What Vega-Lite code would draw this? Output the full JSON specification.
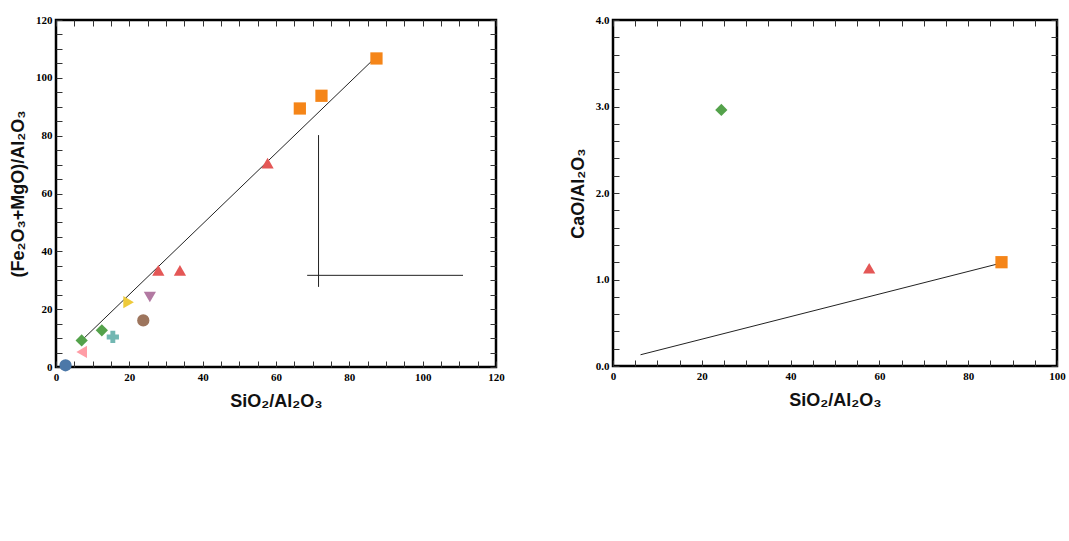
{
"$schema": "https://vega.github.io/schema/vega-lite/v6.json",
"padding": {"left": 8, "top": 12, "right": 5, "bottom": 0},
"config": {
  "font": "Liberation Sans",
  "view": {"stroke": "black", "strokeWidth": 2.5},
  "axis": {"grid": false, "domain": false, "ticks": true, "tickColor": "#333", "tickWidth": 1, "tickSize": -6, "labelPadding": 10, "labelFont": "Liberation Serif", "labelFontWeight": "bold", "labelFontSize": 11, "labelColor": "black", "labelFlush": false, "labelOverlap": false, "titleFont": "Liberation Sans", "titleFontSize": 18, "titleFontWeight": "bold", "titleColor": "#111"},
  "text": {"font": "Liberation Sans", "color": "#1a1a1a"}
},
"datasets": {
  "ptsA": [
    {"rock": "Dunito", "x": 87.4, "y": 106.7}, {"rock": "Dunito", "x": 72.4, "y": 93.8}, {"rock": "Dunito", "x": 66.5, "y": 89.4},
    {"rock": "Harzburgito", "x": 57.7, "y": 70.5}, {"rock": "Harzburgito", "x": 33.8, "y": 33.4}, {"rock": "Harzburgito", "x": 27.9, "y": 33.4},
    {"rock": "Lherzolito", "x": 7, "y": 9.2}, {"rock": "Lherzolito", "x": 12.5, "y": 12.7},
    {"rock": "Websterito", "x": 23.8, "y": 16.1},
    {"rock": "Olivina Websterito", "x": 25.6, "y": 24.2},
    {"rock": "Olivina Ortopiroxenito", "x": 19.8, "y": 22.4},
    {"rock": "Anfibolito", "x": 2.6, "y": 0.6},
    {"rock": "Piroxênio Hornblendito", "x": 7, "y": 5.2},
    {"rock": "Hornblenda Piroxenito", "x": 15.5, "y": 10.4}
  ],
  "ptsB": [
    {"rock": "Dunito", "x": 87.5, "y": 1.2}, {"rock": "Harzburgito", "x": 57.7, "y": 1.13}, {"rock": "Lherzolito", "x": 24.4, "y": 2.96}
  ]
},
"hconcat": [
{
"width": 440, "height": 347,
"layer": [
    {"data": {"values": [{"x": 71.6, "y": 27.7, "x2": 71.6, "y2": 80.2}, {"x": 68.5, "y": 31.7, "x2": 111, "y2": 31.7}, {"x": 6.6, "y": 8.7, "x2": 86.6, "y2": 106.4}]},
     "mark": {"type": "rule", "color": "#222", "strokeWidth": 1},
     "encoding": {
       "x": {"field": "x", "type": "quantitative", "scale": {"domain": [0, 120], "nice": false}, "axis": {"orient": "top", "labels": false, "title": null, "values": [0,5,10,15,20,25,30,35,40,45,50,55,60,65,70,75,80,85,90,95,100,105,110,115,120]}},
       "x2": {"field": "x2"},
       "y": {"field": "y", "type": "quantitative", "scale": {"domain": [0, 120], "nice": false}, "axis": {"orient": "right", "labels": false, "title": null, "values": [0,5,10,15,20,25,30,35,40,45,50,55,60,65,70,75,80,85,90,95,100,105,110,115,120]}},
       "y2": {"field": "y2"}}},
    {"data": {"name": "ptsA"}, "mark": {"type": "point", "filled": true, "opacity": 1, "size": 150, "strokeWidth": 0},
     "encoding": {
       "x": {"field": "x", "type": "quantitative", "scale": {"domain": [0, 120], "nice": false}, "axis": {"orient": "bottom", "title": "SiO₂/Al₂O₃", "titlePadding": 10, "values": [0,5,10,15,20,25,30,35,40,45,50,55,60,65,70,75,80,85,90,95,100,105,110,115,120], "labelExpr": "datum.value % 20 === 0 ? datum.label : ''"}},
       "y": {"field": "y", "type": "quantitative", "scale": {"domain": [0, 120], "nice": false}, "axis": {"orient": "left", "title": "(Fe₂O₃+MgO)/Al₂O₃", "titlePadding": 8, "values": [0,5,10,15,20,25,30,35,40,45,50,55,60,65,70,75,80,85,90,95,100,105,110,115,120], "labelExpr": "datum.value % 20 === 0 ? datum.label : ''"}},
       "color": {"field": "rock", "type": "nominal", "title": "LEGENDA"},
       "shape": {"field": "rock", "type": "nominal", "title": "LEGENDA"}
     }}
]
},
{
"width": 444, "height": 346,
"layer": [
    {"data": {"values": [{"x": 6.2, "y": 0.13, "x2": 87.9, "y2": 1.196}]},
     "mark": {"type": "rule", "color": "#222", "strokeWidth": 1},
     "encoding": {
       "x": {"field": "x", "type": "quantitative", "scale": {"domain": [0, 100], "nice": false}, "axis": {"orient": "top", "labels": false, "title": null, "values": [0,5,10,15,20,25,30,35,40,45,50,55,60,65,70,75,80,85,90,95,100]}},
       "x2": {"field": "x2"},
       "y": {"field": "y", "type": "quantitative", "scale": {"domain": [0, 4], "nice": false}, "axis": {"orient": "right", "labels": false, "title": null, "values": [0,0.2,0.4,0.6,0.8,1,1.2,1.4,1.6,1.8,2,2.2,2.4,2.6,2.8,3,3.2,3.4,3.6,3.8,4]}},
       "y2": {"field": "y2"}}},
    {"data": {"name": "ptsB"}, "mark": {"type": "point", "filled": true, "opacity": 1, "size": 150, "strokeWidth": 0},
     "encoding": {
       "x": {"field": "x", "type": "quantitative", "scale": {"domain": [0, 100], "nice": false}, "axis": {"orient": "bottom", "title": "SiO₂/Al₂O₃", "titlePadding": 10, "values": [0,5,10,15,20,25,30,35,40,45,50,55,60,65,70,75,80,85,90,95,100], "labelExpr": "datum.value % 20 === 0 ? datum.label : ''"}},
       "y": {"field": "y", "type": "quantitative", "scale": {"domain": [0, 4], "nice": false}, "axis": {"orient": "left", "title": "CaO/Al₂O₃", "titlePadding": 8, "values": [0,0.2,0.4,0.6,0.8,1,1.2,1.4,1.6,1.8,2,2.2,2.4,2.6,2.8,3,3.2,3.4,3.6,3.8,4], "labelExpr": "abs(datum.value - round(datum.value)) < 0.001 ? datum.label : ''"}},
       "color": {"field": "rock", "type": "nominal", "title": "LEGENDA"},
       "shape": {"field": "rock", "type": "nominal", "title": "LEGENDA"}
     }}
]
}
],
"spacing": 62
}
